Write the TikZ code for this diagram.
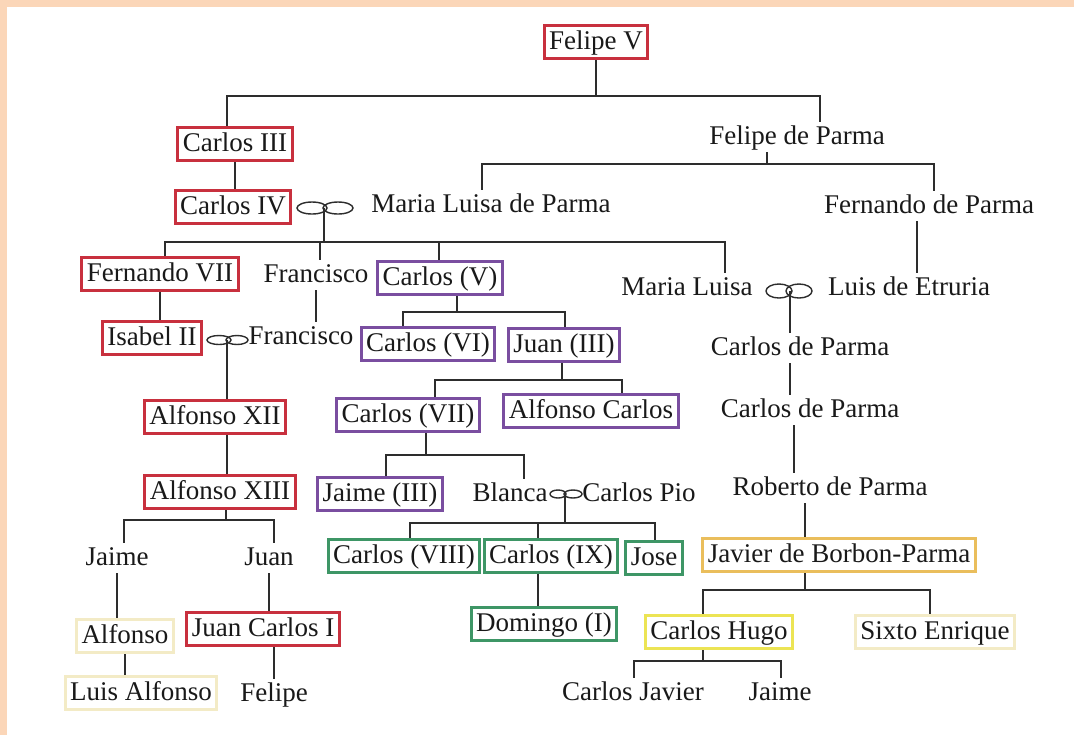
\documentclass[tikz,border=0pt]{standalone}
\usepackage{fontspec}
\setmainfont{Liberation Serif}
\usepackage{xcolor}
\usetikzlibrary{shapes.geometric}

\definecolor{kingred}{RGB}{200,48,62}
\definecolor{carlistpurple}{RGB}{122,78,160}
\definecolor{carlistgreen}{RGB}{62,150,102}
\definecolor{javiergold}{RGB}{234,190,92}
\definecolor{hugoyellow}{RGB}{236,228,84}
\definecolor{paleyellow}{RGB}{243,235,198}
\definecolor{framepeach}{RGB}{251,214,184}
\definecolor{linegray}{RGB}{45,45,45}

\begin{document}
\begin{tikzpicture}[x=0.5pt, y=-0.5pt,
        every node/.style={font=\fontsize{13.5}{16}\selectfont, text=black!90, inner sep=0pt},
        person/.style={inner xsep=3pt, inner ysep=1pt, text height=10pt, text depth=3pt},
        boxed/.style={person, draw, line width=1.6pt, inner xsep=2.5pt, inner ysep=1.8pt},
        redbox/.style={boxed, draw=kingred},
        purplebox/.style={boxed, draw=carlistpurple},
        greenbox/.style={boxed, draw=carlistgreen},
        goldbox/.style={boxed, draw=javiergold},
        yellowbox/.style={boxed, draw=hugoyellow},
        palebox/.style={boxed, draw=paleyellow},
        ring/.style={ellipse, draw=linegray, line width=0.7pt, minimum width=15pt, minimum height=6pt},
        link/.style={draw=linegray, line width=1pt}]

        % Frame
        \fill[white] (0,0) rectangle (1074,735);
        \fill[framepeach] (0,0) rectangle (1074,7);
        \fill[framepeach] (0,0) rectangle (7,735);
        \useasboundingbox (0,0) rectangle (1074,735);

        % Nodes
        \node[redbox] (felipeV) at (596,42) {Felipe V};

        \node[redbox] (carlosIII) at (235,144) {Carlos III};
        \node[person] (felipeParma) at (797,137) {Felipe de Parma};

        \node[redbox] (carlosIV) at (233,207) {Carlos IV};
        \node[person] (mlParma) at (491,205) {Maria Luisa de Parma};
        \node[person] (fernParma) at (929,206) {Fernando de Parma};

        \node[redbox] (fernVII) at (160,274) {Fernando VII};
        \node[person] (francisco) at (316,275) {Francisco};
        \node[purplebox] (carlosV) at (440,278) {Carlos (V)};
        \node[person] (mluisa) at (687,288) {Maria Luisa};
        \node[person] (luisEtruria) at (909,288) {Luis de Etruria};

        \node[redbox] (isabelII) at (152,338) {Isabel II};
        \node[person] (francisco2) at (301,337) {Francisco};
        \node[purplebox] (carlosVI) at (428,344) {Carlos (VI)};
        \node[purplebox] (juanIII) at (564,345) {Juan (III)};
        \node[person] (carlosParma) at (800,348) {Carlos de Parma};

        \node[redbox] (alfonsoXII) at (215,417) {Alfonso XII};
        \node[purplebox] (carlosVII) at (408,415) {Carlos (VII)};
        \node[purplebox] (alfonsoCarlos) at (591,411) {Alfonso Carlos};
        \node[person] (carlosParma2) at (810,410) {Carlos de Parma};

        \node[redbox] (alfonsoXIII) at (220,492) {Alfonso XIII};
        \node[purplebox] (jaimeIII) at (380,494) {Jaime (III)};
        \node[person] (blanca) at (510,494) {Blanca};
        \node[person] (carlosPio) at (639,494) {Carlos Pio};
        \node[person] (roberto) at (830,488) {Roberto de Parma};

        \node[person] (jaime) at (117,558) {Jaime};
        \node[person] (juan) at (269,558) {Juan};
        \node[greenbox] (carlosVIII) at (404,556) {Carlos (VIII)};
        \node[greenbox] (carlosIX) at (551,556) {Carlos (IX)};
        \node[greenbox] (jose) at (654,558) {Jose};
        \node[goldbox] (javier) at (839,555) {Javier de Borbon-Parma};

        \node[palebox] (alfonso) at (125,636) {Alfonso};
        \node[redbox] (juanCarlosI) at (263,629) {Juan Carlos I};
        \node[greenbox] (domingo) at (544,624) {Domingo (I)};
        \node[yellowbox] (carlosHugo) at (719,632) {Carlos Hugo};
        \node[palebox] (sixto) at (935,632) {Sixto Enrique};

        \node[palebox] (luisAlfonso) at (141,693) {Luis Alfonso};
        \node[person] (felipe) at (274,694) {Felipe};
        \node[person] (carlosJavier) at (633,693) {Carlos Javier};
        \node[person] (jaime2) at (780,693) {Jaime};

        % Rings
        \coordinate (wed1) at (324,208);
        \node[ring] (wed1a) at (312,208) {};
        \node[ring] (wed1b) at (338,208) {};
        \coordinate (wed2) at (790,291);
        \node[ring, minimum width=13pt, minimum height=7pt] (wed2a) at (779,291) {};
        \node[ring, minimum width=13pt, minimum height=7pt] (wed2b) at (799,291) {};
        \coordinate (wed3) at (227,340);
        \node[ring, minimum width=12pt, minimum height=4.5pt] (wed3a) at (219,340) {};
        \node[ring, minimum width=11pt, minimum height=4.5pt] (wed3b) at (237,340) {};
        \coordinate (wed4) at (565,494);
        \node[ring, minimum width=8pt, minimum height=4pt] (wed4a) at (558,494) {};
        \node[ring, minimum width=9pt, minimum height=4pt] (wed4b) at (573,494) {};

        % Edges
        \coordinate (a1) at (227,96);
        \coordinate (a2) at (820,96);
        \draw[link] (felipeV) -- (felipeV |- a1);
        \draw[link] (a1 |- carlosIII.north) -- (a1) -- (a2) -- (a2 |- felipeParma.north);
        \draw[link] (carlosIII.south) -- (carlosIII.south |- carlosIV.north);

        \coordinate (b0) at (767,164);
        \coordinate (b1) at (482,164);
        \coordinate (b2) at (934,164);
        \draw[link] (b0 |- felipeParma.south) -- (b0);
        \draw[link] (b1 |- mlParma.north) -- (b1) -- (b2) -- (b2 |- fernParma.north);
        \draw[link] ([xshift=-6pt]fernParma.south) -- ([xshift=-6pt]fernParma.south |- luisEtruria.north);

        \coordinate (c0) at (324,242);
        \coordinate (c1) at (165,242);
        \coordinate (c2) at (320,242);
        \coordinate (c3) at (439,242);
        \coordinate (c4) at (725,242);
        \draw[link] (wed1) -- (c0);
        \draw[link] (c1 |- fernVII.north) -- (c1) -- (c4) -- (c4 |- mluisa.north);
        \draw[link] (c2) -- (c2 |- francisco.north);
        \draw[link] (c3) -- (c3 |- carlosV.north);

        \draw[link] (fernVII.south) -- (fernVII.south |- isabelII.north);
        \draw[link] (francisco.south) -- (francisco.south |- francisco2.north);

        \coordinate (d0) at (457,312);
        \coordinate (d1) at (403,312);
        \coordinate (d2) at (565,312);
        \draw[link] (d0 |- carlosV.south) -- (d0);
        \draw[link] (d1 |- carlosVI.north) -- (d1) -- (d2) -- (d2 |- juanIII.north);

        \draw[link] (wed3) -- (wed3 |- alfonsoXII.north);
        \draw[link] (wed3 |- alfonsoXII.south) -- (wed3 |- alfonsoXIII.north);

        \draw[link] (wed2) -- (wed2 |- carlosParma.north);
        \draw[link] (wed2 |- carlosParma.south) -- (wed2 |- carlosParma2.north);
        \draw[link] ([xshift=2pt]wed2 |- carlosParma2.south) -- ([xshift=2pt]wed2 |- roberto.north);

        \coordinate (e0) at (562,380);
        \coordinate (e1) at (435,380);
        \coordinate (e2) at (622,380);
        \draw[link] (e0 |- juanIII.south) -- (e0);
        \draw[link] (e1 |- carlosVII.north) -- (e1) -- (e2) -- (e2 |- alfonsoCarlos.north);

        \coordinate (f0) at (426,455);
        \coordinate (f1) at (386,455);
        \coordinate (f2) at (524,455);
        \draw[link] (f0 |- carlosVII.south) -- (f0);
        \draw[link] (f1 |- jaimeIII.north) -- (f1) -- (f2) -- (f2 |- blanca.north);

        \coordinate (g0) at (226,520);
        \coordinate (g1) at (124,520);
        \coordinate (g2) at (274,520);
        \draw[link] (g0 |- alfonsoXIII.south) -- (g0);
        \draw[link] (g1 |- jaime.north) -- (g1) -- (g2) -- (g2 |- juan.north);
        \draw[link] (jaime.south) -- (jaime.south |- alfonso.north);
        \draw[link] (juan.south) -- (juan.south |- juanCarlosI.north);
        \draw[link] (alfonso.south) -- (alfonso.south |- luisAlfonso.north);
        \draw[link] (felipe.north) -- (felipe.north |- juanCarlosI.south);

        \coordinate (h1) at (410,523);
        \coordinate (h2) at (538,523);
        \coordinate (h3) at (655,523);
        \draw[link] (wed4) -- (wed4 |- h1);
        \draw[link] (h1 |- carlosVIII.north) -- (h1) -- (h3) -- (h3 |- jose.north);
        \draw[link] (h2) -- (h2 |- carlosIX.north);
        \draw[link] (h2 |- carlosIX.south) -- (h2 |- domingo.north);

        \coordinate (i0) at (805,590);
        \coordinate (i1) at (703,590);
        \coordinate (i2) at (930,590);
        \draw[link] (i0 |- roberto.south) -- (i0 |- javier.north);
        \draw[link] (i0 |- javier.south) -- (i0);
        \draw[link] (i1 |- carlosHugo.north) -- (i1) -- (i2) -- (i2 |- sixto.north);

        \coordinate (j0) at (703,661);
        \coordinate (j1) at (634,661);
        \coordinate (j2) at (781,661);
        \draw[link] (j0 |- carlosHugo.south) -- (j0);
        \draw[link] (j1 |- carlosJavier.north) -- (j1) -- (j2) -- (j2 |- jaime2.north);
    \end{tikzpicture}
\end{document}
